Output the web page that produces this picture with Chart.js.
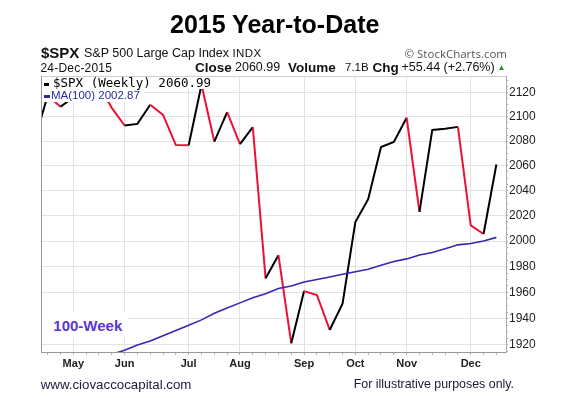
<!DOCTYPE html>
<html>
<head>
<meta charset="utf-8">
<script src="https://cdn.jsdelivr.net/npm/chart.js@4"></script>
<style>
  html, body { margin: 0; padding: 0; background: #fff; }
  #wrap { position: relative; width: 580px; height: 398px; overflow: hidden; }
  #wrap canvas { position: absolute; left: 0; top: 0; }
  .t { position: absolute; white-space: nowrap; line-height: 1; font-family: "Liberation Sans", Arial, sans-serif; color: #111; z-index: 2; }
  .box { position: absolute; background: #fff; z-index: 1; }
  .b { font-weight: bold; }
</style>
</head>
<body>
<div id="wrap">
  <canvas id="c" width="580" height="398"></canvas>

  <div class="t b" style="left:274.7px; top:12px; font-size:25px; transform:translateX(-50%); color:#000;">2015 Year-to-Date</div>

  <div class="t b" style="left:41px; top:44.8px; font-size:15px;">$SPX</div>
  <div class="t" style="left:84px; top:46.9px; font-size:12.5px;">S&amp;P 500 Large Cap Index</div>
  <div class="t" style="left:232.5px; top:47.8px; font-size:11.5px; letter-spacing:0.4px;">INDX</div>
  <div class="t" style="right:73px; top:47.5px; font-size:11.5px; font-family:'Open Sans', sans-serif; color:#555;">© StockCharts.com</div>

  <div class="t" style="left:40.5px; top:61.8px; font-size:12px; letter-spacing:0.2px;">24-Dec-2015</div>
  <div class="t b" style="left:195px; top:60.6px; font-size:13.5px;">Close</div>
  <div class="t" style="left:235px; top:61.4px; font-size:12.5px;">2060.99</div>
  <div class="t b" style="left:288px; top:60.6px; font-size:13.5px;">Volume</div>
  <div class="t" style="left:345px; top:62.3px; font-size:11.5px;">7.1B</div>
  <div class="t b" style="left:372.5px; top:60.6px; font-size:13.5px;">Chg</div>
  <div class="t" style="left:401.5px; top:61.4px; font-size:12.5px;">+55.44 (+2.76%)</div>
  <div class="t" style="left:497.5px; top:64px; font-size:8px; color:#2a8a2a;">▲</div>

  <div class="box" style="left:42px; top:77px; width:172px; height:12px;"></div>
  <div class="box" style="left:42px; top:89px; width:102px; height:13px;"></div>
  <div class="box" style="left:43.5px; top:83px; width:5.5px; height:3px; background:#000; z-index:2;"></div>
  <div class="t" style="left:53px; top:76.9px; font-size:12.5px; font-family:'DejaVu Sans Mono', monospace; color:#000;">$SPX (Weekly) 2060.99</div>
  <div class="box" style="left:43.5px; top:95px; width:6.5px; height:3px; background:#2a2aa0; z-index:2;"></div>
  <div class="t" style="left:51px; top:90.3px; font-size:11.5px; color:#2a2aa0;">MA(100) 2002.87</div>

  <div class="box" style="left:42px; top:312px; width:86px; height:26px;"></div>
  <div class="t b" style="left:53.3px; top:318.3px; font-size:15px; color:#5b35d5;">100-Week</div>

  <div class="t" style="left:40.7px; top:378px; font-size:13.3px; color:#1a1a40;">www.ciovaccocapital.com</div>
  <div class="t" style="right:66px; top:377.8px; font-size:12.4px; color:#1a1a2e;">For illustrative purposes only.</div>
</div>

<script>
// weekly closes, Apr 17 .. Dec 24 2015
const WEEKS = ['Apr 17', 'Apr 24', 'May 1', 'May 8', 'May 15', 'May 22', 'May 29',
  'Jun 5', 'Jun 12', 'Jun 19', 'Jun 26', 'Jul 2', 'Jul 10', 'Jul 17', 'Jul 24', 'Jul 31',
  'Aug 7', 'Aug 14', 'Aug 21', 'Aug 28', 'Sep 4', 'Sep 11', 'Sep 18', 'Sep 25',
  'Oct 2', 'Oct 9', 'Oct 16', 'Oct 23', 'Oct 30', 'Nov 6', 'Nov 13', 'Nov 20', 'Nov 27',
  'Dec 4', 'Dec 11', 'Dec 18', 'Dec 24'];

const SPX_CLOSE = [2081.18, 2117.69, 2108.29, 2116.10, 2122.73, 2126.06, 2107.39,
  2092.83, 2094.11, 2109.99, 2101.49, 2076.78, 2076.62, 2126.64, 2079.65, 2103.84,
  2077.57, 2091.54, 1970.89, 1988.87, 1921.22, 1961.05, 1958.03, 1931.34,
  1951.36, 2014.89, 2033.11, 2075.15, 2079.36, 2099.20, 2023.04, 2089.17, 2090.11,
  2091.69, 2012.37, 2005.55, 2060.99];

const MA_100 = [1897, 1900, 1903, 1906, 1909, 1911, 1913,
  1916, 1920, 1923, 1927, 1931, 1935, 1939, 1944, 1948,
  1952, 1956, 1959, 1963, 1965, 1968, 1970, 1972,
  1974, 1976, 1978, 1981, 1984, 1986, 1989, 1991, 1994,
  1997, 1998, 2000, 2002.87];

// month gridlines sit on the first week starting in that month
const MONTH_LABELS = ['May', 'Jun', 'Jul', 'Aug', 'Sep', 'Oct', 'Nov', 'Dec'];
const MONTH_WEEKS = ['May 8', 'Jun 5', 'Jul 10', 'Aug 7', 'Sep 11', 'Oct 9', 'Nov 6', 'Dec 11'];

const PRICE_TICKS = [1920, 1940, 1960, 1980, 2000, 2020, 2040, 2060, 2080, 2100, 2120];

const RED = '#ee1133';
const BLACK = '#000000';
const MA_COLOR = '#3428b0';

const X_MIN = 0.48, X_MAX = 36.75;

const monthAt = {};
MONTH_WEEKS.forEach((w, i) => { monthAt[WEEKS.indexOf(w)] = MONTH_LABELS[i]; });

const minorPrices = [];
for (let v = 1915; v <= 2130; v += 5) minorPrices.push(v);

const frame = {
  id: 'frame',
  afterDraw(chart) {
    const a = chart.chartArea, c = chart.ctx;
    c.save();
    c.strokeStyle = '#cfcfcf';
    c.lineWidth = 1;
    c.beginPath();
    c.moveTo(a.left, a.top + 0.5);
    c.lineTo(a.right, a.top + 0.5);
    c.stroke();
    c.strokeStyle = '#999';
    c.beginPath();
    c.moveTo(a.left + 0.5, a.top);
    c.lineTo(a.left + 0.5, a.bottom);
    c.stroke();
    c.restore();
  }
};

new Chart(document.getElementById('c'), {
  type: 'line',
  data: {
    datasets: [
      {
        label: 'MA(100)',
        data: MA_100.map((v, i) => ({ x: i, y: v })),
        borderColor: MA_COLOR,
        borderWidth: 1.6,
        pointRadius: 0,
        tension: 0
      },
      {
        label: '$SPX (Weekly)',
        data: SPX_CLOSE.map((v, i) => ({ x: i, y: v })),
        borderColor: BLACK,
        borderWidth: 2,
        pointRadius: 0,
        tension: 0,
        segment: {
          borderColor: s => s.p1.parsed.y < s.p0.parsed.y ? RED : BLACK
        }
      }
    ]
  },
  options: {
    responsive: false,
    animation: false,
    events: [],
    layout: { padding: { left: 41, top: 76, right: 0, bottom: 0 } },
    plugins: { legend: { display: false }, tooltip: { enabled: false } },
    scales: {
      x: {
        type: 'linear',
        min: X_MIN,
        max: X_MAX,
        afterBuildTicks: s => {
          s.ticks = WEEKS.map((w, i) => ({ value: i })).filter(t => t.value >= X_MIN && t.value <= X_MAX);
        },
        afterFit: s => { s.height = 46; },
        grid: {
          color: c => monthAt[c.tick && c.tick.value] ? '#e2e2e2' : 'rgba(0,0,0,0)',
          tickColor: '#b0b0b0',
          tickLength: 3
        },
        border: { color: '#999' },
        ticks: {
          autoSkip: false,
          maxRotation: 0,
          padding: 2,
          color: '#222',
          font: { family: 'Liberation Sans', size: 11, weight: 'bold' },
          callback: v => monthAt[v] || ''
        }
      },
      y: {
        type: 'logarithmic',
        position: 'right',
        min: 1914.7,
        max: 2133.9,
        afterBuildTicks: s => { s.ticks = minorPrices.map(v => ({ value: v })); },
        afterFit: s => { s.width = 74; },
        grid: {
          color: c => PRICE_TICKS.includes(c.tick && c.tick.value) ? '#e2e2e2' : 'rgba(0,0,0,0)',
          tickColor: '#b0b0b0',
          tickLength: 2
        },
        border: { color: '#aaa' },
        ticks: {
          autoSkip: false,
          padding: 1,
          color: '#222',
          font: { family: 'Liberation Sans', size: 12 },
          callback: v => PRICE_TICKS.includes(v) ? String(v) : ''
        }
      }
    }
  },
  plugins: [frame]
});
</script>
</body>
</html>
